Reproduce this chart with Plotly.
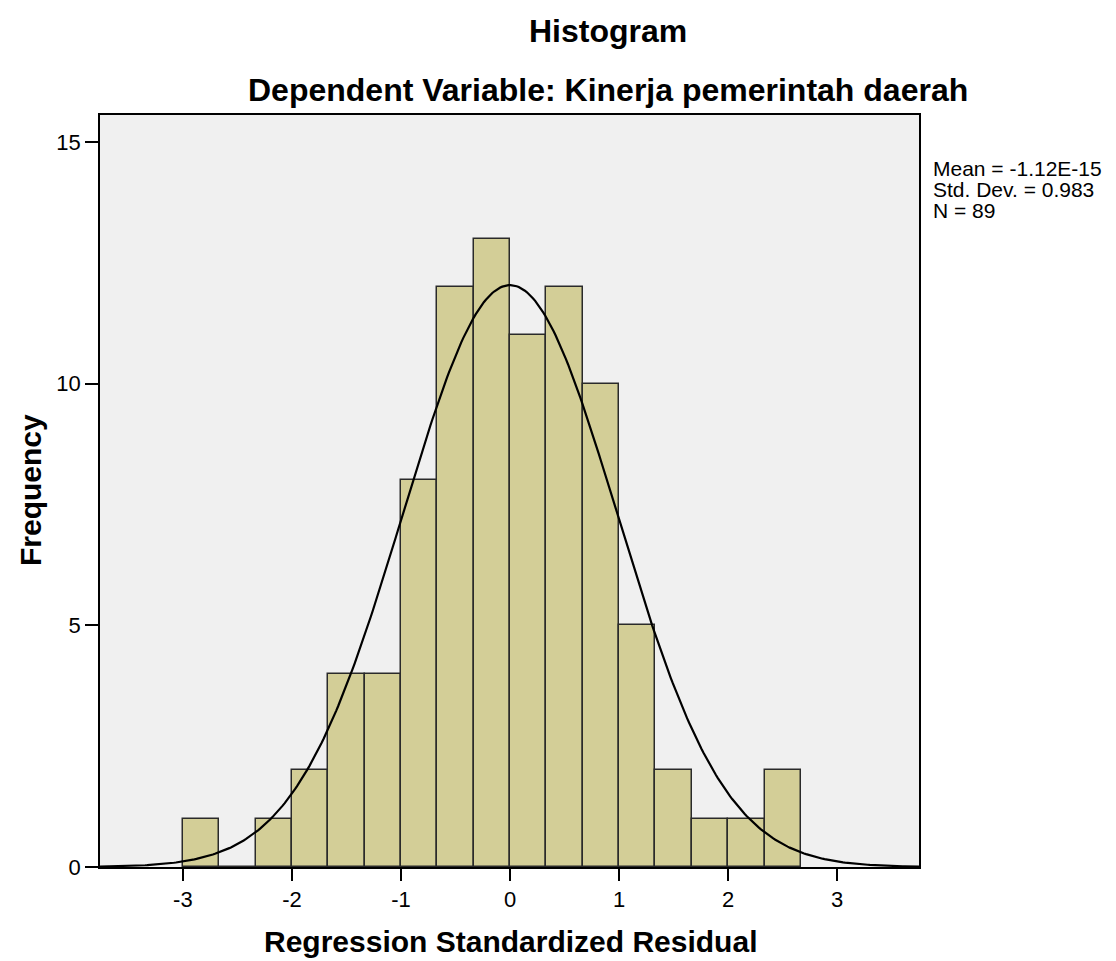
import numpy as np
import plotly.graph_objects as go

bin_left = [-3.0, -2.6667, -2.3333, -2.0, -1.6667, -1.3333, -1.0, -0.6667, -0.3333,
            0.0, 0.3333, 0.6667, 1.0, 1.3333, 1.6667, 2.0, 2.3333]
counts = [1, 0, 1, 2, 4, 4, 8, 12, 13, 11, 12, 10, 5, 2, 1, 1, 2]
bin_width = 1/3
mean = -1.12e-15
sd = 0.983
n = 89
x_ticks = [-3, -2, -1, 0, 1, 2, 3]
x_ticktext = ["-3", "-2", "-1", "0", "1", "2", "3"]
y_ticks = [0, 5, 10, 15]
y_ticktext = ["0", "5", "10", "15"]
stats_lines = ["Mean = -1.12E-15", "Std. Dev. = 0.983", "N = 89"]

centers = [b + bin_width/2 for b in bin_left]
xr = [-3.76, 3.75]
yr = [0, 15.56]
xc = np.linspace(xr[0], xr[1], 400)
yc = n * bin_width / (sd * np.sqrt(2*np.pi)) * np.exp(-0.5*((xc-mean)/sd)**2)

fig = go.Figure()
fig.add_trace(go.Bar(x=centers, y=counts, width=bin_width,
                     marker=dict(color="#D3CE97", line=dict(color="#2a2a2a", width=1.5)),
                     showlegend=False))
fig.add_trace(go.Scatter(x=xc, y=yc, mode="lines", line=dict(color="black", width=2.2),
                         showlegend=False))

font = "Liberation Sans, Arial, sans-serif"
# target plot area in screen pixels (page has an 8px body offset)
L, R, T, B = 100, 919, 115, 867
off = 8
W, H = 1116, 961
pw, ph = R - L, B - T

def px(x):
    return (x - L) / pw

def py(y):
    return (B - y) / ph

annotations = [
    dict(text="<b>Histogram</b>", x=px(608), y=py(31), font=dict(size=32)),
    dict(text="<b>Dependent Variable: Kinerja pemerintah daerah</b>", x=px(608), y=py(90),
         font=dict(size=32)),
    dict(text="<b>Regression Standardized Residual</b>", x=px(510), y=py(941), font=dict(size=30)),
    dict(text="<b>Frequency</b>", x=px(30), y=py(490), textangle=-90, font=dict(size=30)),
]
for i, line in enumerate(stats_lines):
    annotations.append(dict(text=line, x=px(931), y=py(168 + 21.5 * i), xanchor="left",
                            font=dict(size=21)))
for a in annotations:
    a.update(xref="paper", yref="paper", showarrow=False)
    a.setdefault("xanchor", "center")
    a["yanchor"] = "middle"

fig.update_layout(
    width=W, height=H,
    margin=dict(l=L - off, r=W + off - R, t=T - off, b=H + off - B),
    plot_bgcolor="#F0F0F0", paper_bgcolor="white",
    bargap=0,
    font=dict(family=font, color="black", size=22),
    xaxis=dict(range=xr, tickvals=x_ticks, ticktext=x_ticktext, ticks="outside", ticklen=12,
               tickwidth=1.5, tickcolor="black", showgrid=False, zeroline=False, showline=True,
               linecolor="black", linewidth=1.5, mirror=True, tickfont=dict(size=22)),
    yaxis=dict(range=yr, tickvals=y_ticks, ticktext=y_ticktext, ticks="outside", ticklen=13,
               tickwidth=1.5, tickcolor="black", showgrid=False, zeroline=False, showline=True,
               linecolor="black", linewidth=1.5, mirror=True, tickfont=dict(size=22)),
    annotations=annotations,
)
fig.write_html("out.html")
